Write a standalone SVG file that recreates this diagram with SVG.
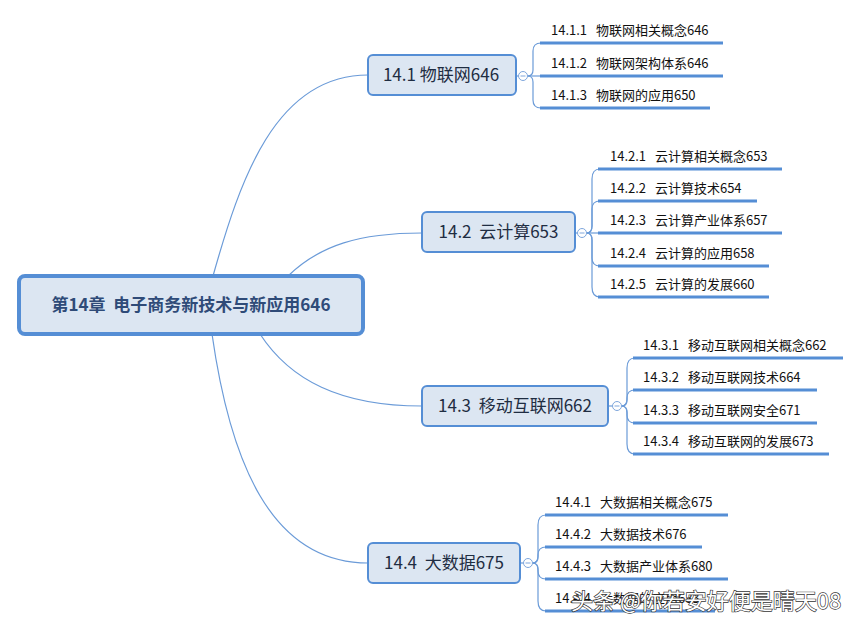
<svg xmlns="http://www.w3.org/2000/svg" width="860" height="628" viewBox="0 0 860 628">
<style>
text{font-family:"Noto Sans CJK SC","Microsoft YaHei",sans-serif;}
.conn{fill:none;stroke:#6b9bd8;stroke-width:1.2;}
.root rect{fill:#dce6f2;stroke:#558ed5;stroke-width:4;}
.root text{font-size:17px;font-weight:bold;fill:#2f4b78;text-anchor:middle;}
.main rect{fill:#dce6f2;stroke:#558ed5;stroke-width:2;}
.main text{font-size:17px;fill:#1f2d42;text-anchor:middle;}
.fold{fill:#fff;stroke:#7ea6dc;stroke-width:1;}
.minus{stroke:#7ea6dc;stroke-width:1;}
.sub line{stroke:#558ed5;stroke-width:3;}
.sub text{font-size:13px;fill:#111;}
.wm{font-size:22px;fill:#fff;stroke:#333;stroke-width:1.3;paint-order:stroke;}
</style>
<g id="connectors">
<path class="conn" d="M213,276 C240,180 275,75 368,75"/>
<path class="conn" d="M288,276 C320,245 360,233 422,233"/>
<path class="conn" d="M260,334 C290,380 340,406 422,406"/>
<path class="conn" d="M212,334 C230,460 270,563 368,563"/>
<path class="conn" d="M516,76 H518.5"/>
<path class="conn" d="M527.5,76 Q533,76 533,70 V51 Q533,43 541,43"/>
<path class="conn" d="M527.5,76 H541"/>
<path class="conn" d="M527.5,76 Q533,76 533,82 V100 Q533,108 541,108"/>
<path class="conn" d="M575,233 H577.5"/>
<path class="conn" d="M586.5,233 Q592,233 592,226 V179 Q592,169 600,169"/>
<path class="conn" d="M586.5,233 Q592,233 592,226 V209 Q592,201 600,201"/>
<path class="conn" d="M586.5,233 H600"/>
<path class="conn" d="M586.5,233 Q592,233 592,240 V258 Q592,266 600,266"/>
<path class="conn" d="M586.5,233 Q592,233 592,240 V287 Q592,297 600,297"/>
<path class="conn" d="M608,406 H612.5"/>
<path class="conn" d="M621.5,406 Q627,406 627,399 V368 Q627,358 635,358"/>
<path class="conn" d="M621.5,406 Q627,406 627,400 V398 Q627,390 635,390"/>
<path class="conn" d="M621.5,406 Q627,406 627,412 V415 Q627,423 635,423"/>
<path class="conn" d="M621.5,406 Q627,406 627,413 V444 Q627,454 635,454"/>
<path class="conn" d="M520,563 H523.5"/>
<path class="conn" d="M532.5,563 Q538,563 538,556 V525 Q538,515 546,515"/>
<path class="conn" d="M532.5,563 Q538,563 538,557 V555 Q538,547 546,547"/>
<path class="conn" d="M532.5,563 Q538,563 538,569 V571 Q538,579 546,579"/>
<path class="conn" d="M532.5,563 Q538,563 538,570 V601 Q538,611 546,611"/>
</g>
<g id="root" class="root">
<rect x="19" y="276" width="344" height="58" rx="6"/>
<text x="191" y="311" xml:space="preserve">第14章  电子商务新技术与新应用646</text>
</g>
<g id="n14-1" class="main">
<rect x="368" y="55" width="148" height="40" rx="5"/>
<text x="441" y="81">14.1 物联网646</text>
<circle class="fold" cx="523" cy="76" r="4.5"/><line class="minus" x1="520.5" y1="76" x2="525.5" y2="76"/>
</g>
<g id="n14-2" class="main">
<rect x="422" y="212" width="153" height="40" rx="5"/>
<text x="498.5" y="238" xml:space="preserve">14.2  云计算653</text>
<circle class="fold" cx="582" cy="233" r="4.5"/><line class="minus" x1="579.5" y1="233" x2="584.5" y2="233"/>
</g>
<g id="n14-3" class="main">
<rect x="422" y="386" width="186" height="40" rx="5"/>
<text x="515" y="412" xml:space="preserve">14.3  移动互联网662</text>
<circle class="fold" cx="617" cy="406" r="4.5"/><line class="minus" x1="614.5" y1="406" x2="619.5" y2="406"/>
</g>
<g id="n14-4" class="main">
<rect x="368" y="543" width="152" height="40" rx="5"/>
<text x="444" y="569" xml:space="preserve">14.4  大数据675</text>
<circle class="fold" cx="528" cy="563" r="4.5"/><line class="minus" x1="525.5" y1="563" x2="530.5" y2="563"/>
</g>
<g id="n14-1-1" class="sub"><line x1="540" y1="43" x2="723" y2="43"/><text x="551" y="35" xml:space="preserve">14.1.1  <tspan dx="3">物联网相关概念646</tspan></text></g>
<g id="n14-1-2" class="sub"><line x1="540" y1="76" x2="723" y2="76"/><text x="551" y="68" xml:space="preserve">14.1.2  <tspan dx="3">物联网架构体系646</tspan></text></g>
<g id="n14-1-3" class="sub"><line x1="540" y1="108" x2="710" y2="108"/><text x="551" y="100" xml:space="preserve">14.1.3  <tspan dx="3">物联网的应用650</tspan></text></g>
<g id="n14-2-1" class="sub"><line x1="598" y1="169" x2="782" y2="169"/><text x="610" y="161" xml:space="preserve">14.2.1  <tspan dx="3">云计算相关概念653</tspan></text></g>
<g id="n14-2-2" class="sub"><line x1="598" y1="201" x2="757" y2="201"/><text x="610" y="193" xml:space="preserve">14.2.2  <tspan dx="3">云计算技术654</tspan></text></g>
<g id="n14-2-3" class="sub"><line x1="598" y1="233" x2="782" y2="233"/><text x="610" y="225" xml:space="preserve">14.2.3  <tspan dx="3">云计算产业体系657</tspan></text></g>
<g id="n14-2-4" class="sub"><line x1="598" y1="266" x2="769" y2="266"/><text x="610" y="258" xml:space="preserve">14.2.4  <tspan dx="3">云计算的应用658</tspan></text></g>
<g id="n14-2-5" class="sub"><line x1="598" y1="297" x2="769" y2="297"/><text x="610" y="289" xml:space="preserve">14.2.5  <tspan dx="3">云计算的发展660</tspan></text></g>
<g id="n14-3-1" class="sub"><line x1="633" y1="358" x2="843" y2="358"/><text x="643" y="350" xml:space="preserve">14.3.1  <tspan dx="3">移动互联网相关概念662</tspan></text></g>
<g id="n14-3-2" class="sub"><line x1="633" y1="390" x2="817" y2="390"/><text x="643" y="382" xml:space="preserve">14.3.2  <tspan dx="3">移动互联网技术664</tspan></text></g>
<g id="n14-3-3" class="sub"><line x1="633" y1="423" x2="817" y2="423"/><text x="643" y="415" xml:space="preserve">14.3.3  <tspan dx="3">移动互联网安全671</tspan></text></g>
<g id="n14-3-4" class="sub"><line x1="633" y1="454" x2="829" y2="454"/><text x="643" y="446" xml:space="preserve">14.3.4  <tspan dx="3">移动互联网的发展673</tspan></text></g>
<g id="n14-4-1" class="sub"><line x1="545" y1="515" x2="728" y2="515"/><text x="555" y="507" xml:space="preserve">14.4.1  <tspan dx="3">大数据相关概念675</tspan></text></g>
<g id="n14-4-2" class="sub"><line x1="545" y1="547" x2="702" y2="547"/><text x="555" y="539" xml:space="preserve">14.4.2  <tspan dx="3">大数据技术676</tspan></text></g>
<g id="n14-4-3" class="sub"><line x1="545" y1="579" x2="728" y2="579"/><text x="555" y="571" xml:space="preserve">14.4.3  <tspan dx="3">大数据产业体系680</tspan></text></g>
<g id="n14-4-4" class="sub"><line x1="545" y1="611" x2="715" y2="611"/><text x="555" y="603" xml:space="preserve">14.4.4  <tspan dx="3">大数据的应用683</tspan></text></g>
<text class="wm" x="571" y="609" xml:space="preserve">头条 @你若安好便是晴天08</text>
</svg>
